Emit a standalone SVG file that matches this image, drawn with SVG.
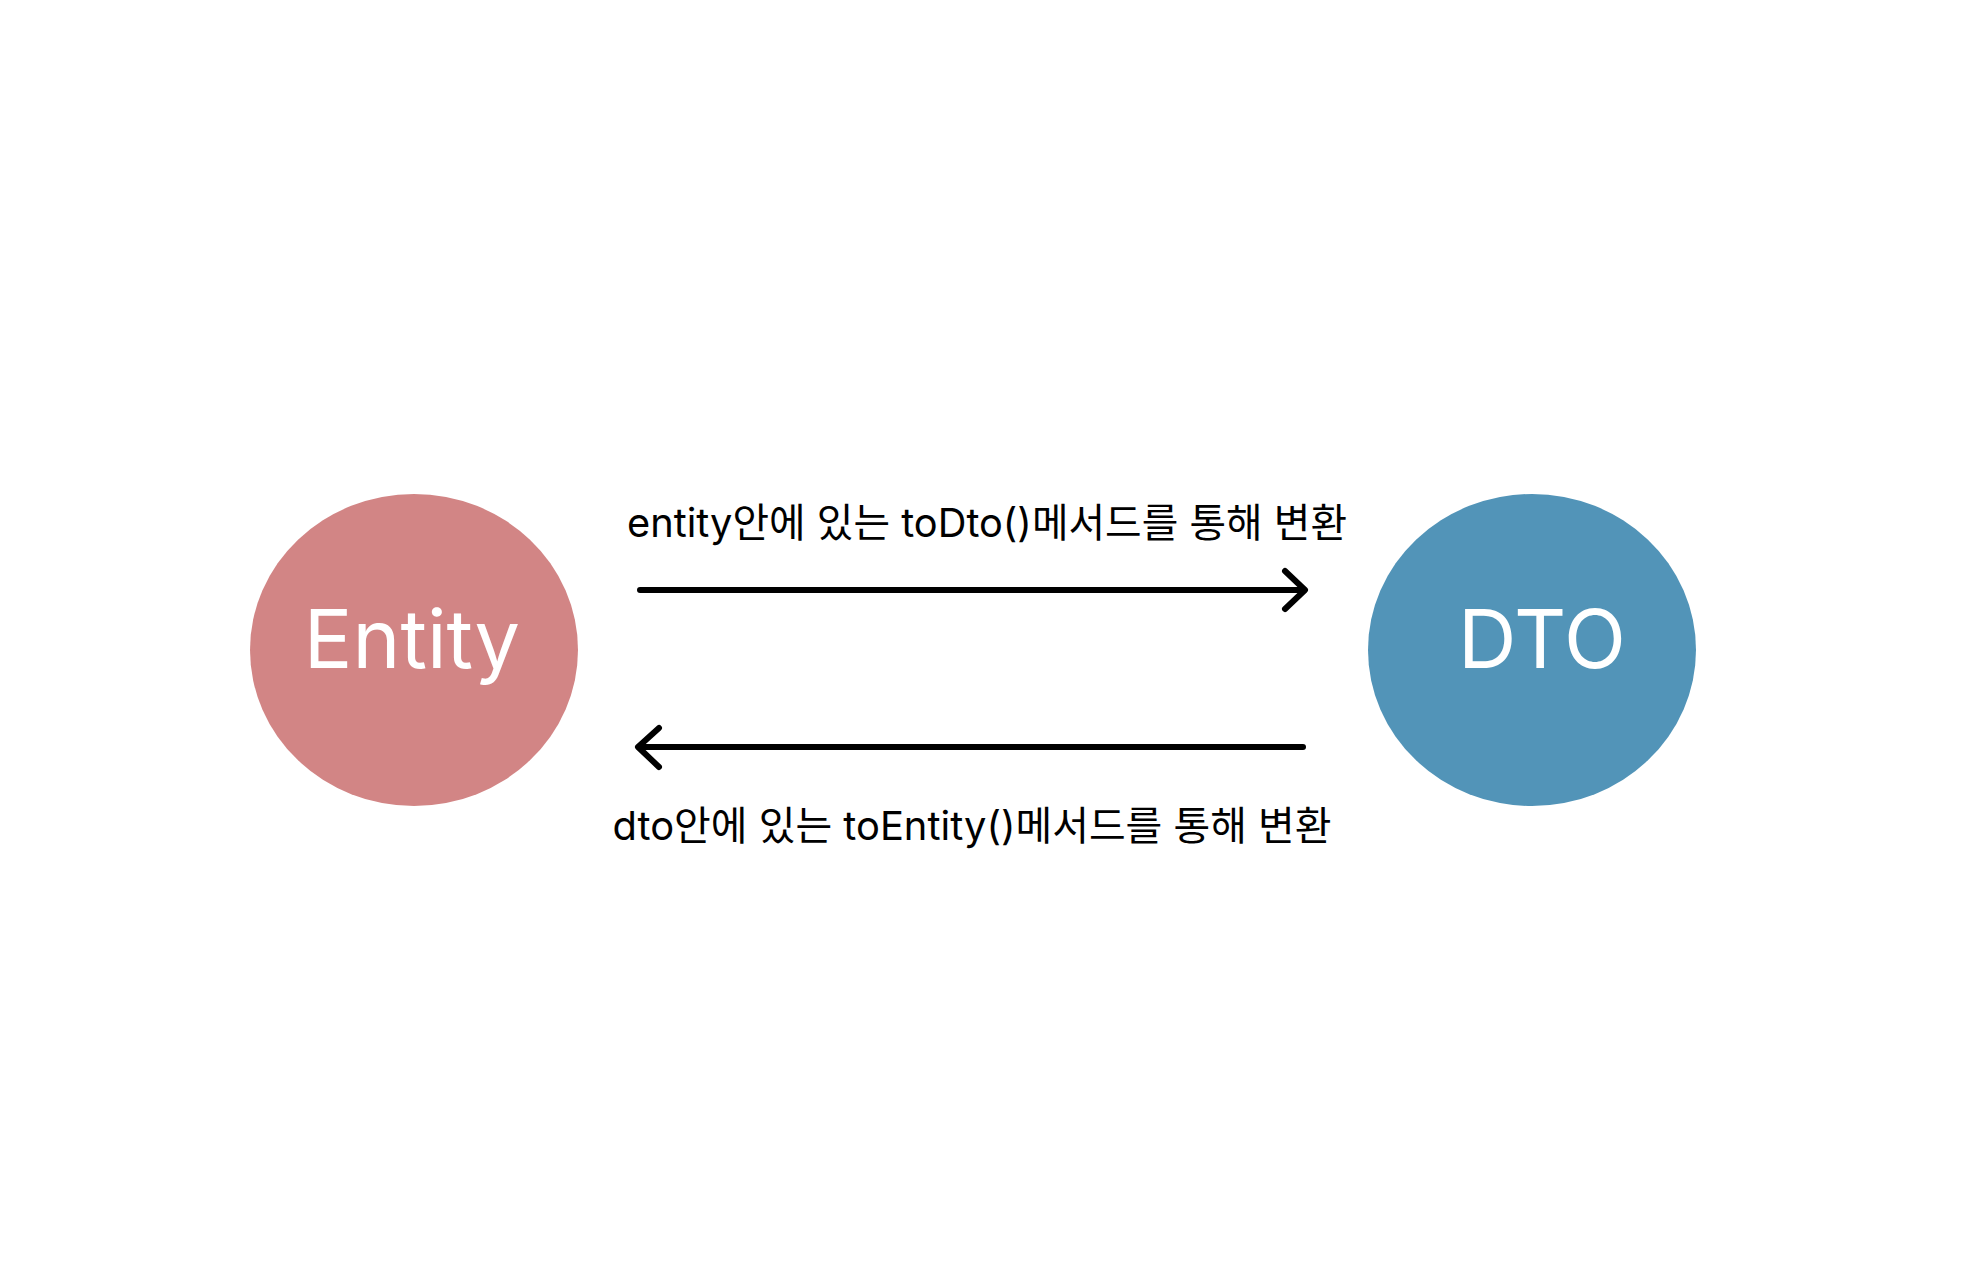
<svg xmlns="http://www.w3.org/2000/svg" width="1986" height="1288" viewBox="0 0 1986 1288">
<style>
.node-label{font-family:Inter,"Noto Sans","Noto Sans CJK KR",sans-serif;font-size:81px;fill:#ffffff;text-anchor:middle}
.edge-label{font-family:Inter,"Noto Sans CJK KR",sans-serif;font-size:40px;fill:#000000;text-anchor:middle}
.edge{stroke:#000000;stroke-width:6;fill:none;stroke-linecap:round;stroke-linejoin:round}
</style>
<rect width="1986" height="1288" fill="#ffffff"/>
<g id="entity">
<ellipse cx="414" cy="650" rx="164" ry="156" fill="#D28585"/>
<text class="node-label" x="412" y="668">Entity</text>
</g>
<g id="dto">
<ellipse cx="1532" cy="650" rx="164" ry="156" fill="#5294B8"/>
<text class="node-label" x="1542" y="668">DTO</text>
</g>
<g id="connectors">
<g id="edge-entity-dto">
<path class="edge" d="M640 590 L1304 590"/>
<path class="edge" d="M1285 571 L1305 590 L1285 609"/>
<text class="edge-label" x="987" y="537" textLength="720" lengthAdjust="spacingAndGlyphs">entity안에 있는 toDto()메서드를 통해 변환</text>
</g>
<g id="edge-dto-entity">
<path class="edge" d="M1303 747 L639 747"/>
<path class="edge" d="M659 728 L638 747 L659 767"/>
<text class="edge-label" x="972" y="840" textLength="719" lengthAdjust="spacingAndGlyphs">dto안에 있는 toEntity()메서드를 통해 변환</text>
</g>
</g>
</svg>
